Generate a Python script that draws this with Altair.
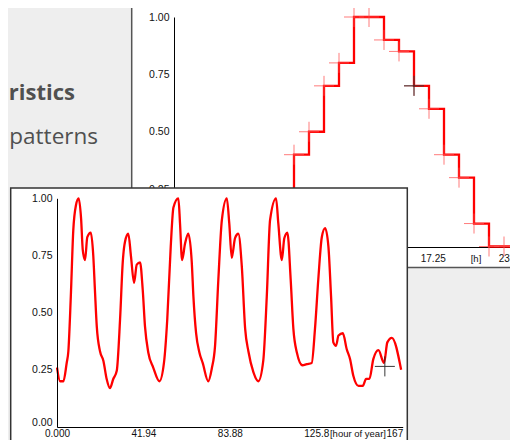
import altair as alt
import pandas as pd

# ---------------- data ----------------
# back window: daily profile, one value per hour
back_hours = list(range(24))
back_values = [0.0, 0.0, 0.0, 0.0, 0.0, 0.0, 0.05, 0.2, 0.4, 0.5, 0.7, 0.8,
               1.0, 1.0, 0.9, 0.85, 0.7, 0.6, 0.4, 0.3, 0.1, 0.0, 0.0, 0.0]
back_cursor_hour = [16]
back_cursor_value = [0.7]
back_ticks = [0, 5.75, 11.5, 17.25, 20.1, 22.35]
back_tick_labels = ["0.000", "5.750", "11.50", "17.25", "[h]", "23"]

# front window: one week, hour of year
front_hours = [0, 1.5, 3.1, 4.7, 5.5, 6.7, 7.9, 9.2, 10.5, 11.7, 12.5, 13.6, 14.7, 16.4,
               17.6, 18.4, 19.3, 20.9, 22.5, 24.1, 25.7, 27.3, 29.0, 30.6, 31.9, 33.0,
               34.6, 35.9, 37.4, 38.7, 40.3, 41.6, 42.7, 44.3, 46.7, 49.7, 51.9, 53.5,
               55.2, 56.5, 58.9, 59.7, 60.7, 62.1, 63.7, 65.4, 66.2, 67.5, 69.1, 70.7,
               73.4, 75.1, 76.7, 78.3, 80.0, 82.4, 83.6, 84.8, 86.4, 88.0, 89.7, 91.3,
               92.9, 95.3, 97.7, 100.1, 101.8, 103.4, 106.3, 107.4, 109.1, 110.3, 111.8,
               113.4, 114.7, 116.4, 119.1, 121.2, 123.6, 125.2, 126.8, 128.5, 130.1,
               131.7, 133.0, 134.1, 135.4, 136.6, 138.7, 140.6, 142.2, 143.8, 146.3,
               148.4, 150.0, 151.6, 153.5, 156.0, 158.7, 160.3, 162.5, 167.0]
front_values = [0.26, 0.20, 0.20, 0.28, 0.33, 0.57, 0.86, 0.97, 1.0, 0.91, 0.775, 0.73,
                0.83, 0.85, 0.75, 0.60, 0.44, 0.33, 0.29, 0.21, 0.17, 0.21, 0.246, 0.47,
                0.72, 0.81, 0.845, 0.746, 0.63, 0.71, 0.72, 0.60, 0.44, 0.326, 0.26, 0.20,
                0.28, 0.47, 0.79, 0.96, 1.0, 0.89, 0.73, 0.80, 0.845, 0.72, 0.57, 0.41,
                0.326, 0.28, 0.20, 0.255, 0.355, 0.645, 0.905, 1.0, 0.89, 0.74, 0.826,
                0.845, 0.70, 0.43, 0.33, 0.24, 0.20, 0.29, 0.57, 0.905, 1.0, 0.89, 0.73,
                0.825, 0.85, 0.645, 0.43, 0.326, 0.27, 0.275, 0.28, 0.43, 0.645, 0.83,
                0.87, 0.79, 0.57, 0.37, 0.355, 0.40, 0.41, 0.34, 0.297, 0.224, 0.18, 0.18,
                0.21, 0.21, 0.297, 0.336, 0.28, 0.37, 0.39, 0.25]
front_cursor_hour = [159.1]
front_cursor_value = [0.265]
front_ticks = [0, 41.94, 83.88, 125.82, 145.8, 167.76]
front_tick_labels = ["0.000", "41.94", "83.88", "125.8", "[hour of year]", "167"]

y_ticks = [0, 0.25, 0.5, 0.75, 1.0]
slide_bold = "ristics"
slide_plain = "patterns"

# ---------------- helpers ----------------
back_df = pd.DataFrame({"hour": back_hours, "value": back_values})
back_cur_df = pd.DataFrame({"hour": back_cursor_hour, "value": back_cursor_value})
front_df = pd.DataFrame({"hour": front_hours, "value": front_values})
front_cur_df = pd.DataFrame({"hour": front_cursor_hour, "value": front_cursor_value})
one = pd.DataFrame({"k": [0]})

CROSS = "M-1,0H1M0,-1V1"
LABEL_FONT = "Liberation Sans"
W, H = 502, 432


def label_expr(vals, labels):
    expr = "''"
    for v, l in reversed(list(zip(vals, labels))):
        expr = f"datum.value == {v} ? '{l}' : ({expr})"
    return expr


def x_axis(vals, labels, offset, last, unit, z, pad):
    return alt.Axis(values=vals, labelExpr=label_expr(vals, labels), orient="bottom",
                    offset=offset, grid=False, ticks=False, domainColor="#000000",
                    domainWidth=1, labelFont=LABEL_FONT,
                    labelFontSize={"condition": {"test": f"datum.value == {unit}", "value": 9.5},
                                   "value": 10},
                    labelColor="#111111", labelPadding=pad, labelOverlap=False,
                    labelFlush=False,
                    labelAlign={"condition": {"test": f"datum.value >= {last}", "value": "right"},
                                "value": "center"},
                    title=None, zindex=z)


def y_axis(offset, z):
    return alt.Axis(values=y_ticks, format=".2f", orient="left", offset=offset, grid=False,
                    ticks=False, domainColor="#000000", domainWidth=1, labelFont=LABEL_FONT,
                    labelFontSize=10.5, labelColor="#111111", labelPadding=5,
                    labelBaseline={"condition": {"test": "datum.value == 0", "value": "bottom"},
                                   "value": "middle"},
                    labelOverlap=False, title=None, zindex=z)


bx_scale = alt.Scale(domain=[0, 23], range=[166, 511], nice=False)
by_scale = alt.Scale(domain=[0, 1], range=[238.5, 9], nice=False)
fx_scale = alt.Scale(domain=[0, 167.76], range=[49, 394.7], nice=False)
fy_scale = alt.Scale(domain=[0, 1], range=[419, 190.3], nice=False)

# ---------------- slide background ----------------
gray = "#eeeeee"
bg_left = alt.Chart(one).mark_rect(color=gray).encode(
    x=alt.value(0), x2=alt.value(123.7), y=alt.value(0), y2=alt.value(H))
bg_bottom = alt.Chart(one).mark_rect(color=gray).encode(
    x=alt.value(123.7), x2=alt.value(W), y=alt.value(259.5), y2=alt.value(H))

txt_bold = alt.Chart(one).mark_text(
    text=slide_bold, align="right", baseline="alphabetic", font="Open Sans",
    fontSize=22, fontWeight="bold", color="#505050").encode(x=alt.value(67), y=alt.value(92))
txt_plain = alt.Chart(one).mark_text(
    text=slide_plain, align="right", baseline="alphabetic", font="Open Sans",
    fontSize=22.5, color="#505050").encode(x=alt.value(90), y=alt.value(136))

# ---------------- back window ----------------
back_frame = alt.Chart(one).mark_rect(fill="white", fillOpacity=0, stroke="#555555",
                                      strokeWidth=1.5).encode(
    x=alt.value(123.7), x2=alt.value(540), y=alt.value(-5), y2=alt.value(259.5))

back_line = alt.Chart(back_df).mark_line(interpolate="step-after", color="#ff0000",
                                         strokeWidth=2.3).encode(
    x=alt.X("hour:Q", scale=bx_scale,
            axis=x_axis(back_ticks, back_tick_labels, 239 - H, 22.3, 20.1, 0, 6)),
    y=alt.Y("value:Q", scale=by_scale, axis=y_axis(-166, 0)))

back_cross = alt.Chart(back_df).mark_point(shape=CROSS, size=400, filled=False,
                                           color="#ff5050", strokeWidth=1,
                                           opacity=0.75).encode(
    x=alt.X("hour:Q", scale=bx_scale, axis=None),
    y=alt.Y("value:Q", scale=by_scale, axis=None))

back_cur = alt.Chart(back_cur_df).mark_point(shape=CROSS, size=400, filled=False,
                                             color="#222222", strokeWidth=1,
                                             opacity=0.9).encode(
    x=alt.X("hour:Q", scale=bx_scale, axis=None),
    y=alt.Y("value:Q", scale=by_scale, axis=None))

# ---------------- front window ----------------
front_frame = alt.Chart(one).mark_rect(fill="white", stroke="#333333",
                                       strokeWidth=1.5).encode(
    x=alt.value(2.7), x2=alt.value(399.3), y=alt.value(180), y2=alt.value(470))

front_line = alt.Chart(front_df).mark_line(color="#ff0000", strokeWidth=2.3,
                                           interpolate="monotone").encode(
    x=alt.X("hour:Q", scale=fx_scale,
            axis=x_axis(front_ticks, front_tick_labels, 419 - H, 167, 145.8, 1, 1.5)),
    y=alt.Y("value:Q", scale=fy_scale, axis=y_axis(-49, 1)))

front_cur = alt.Chart(front_cur_df).mark_point(shape=CROSS, size=400, filled=False,
                                               color="#222222", strokeWidth=1,
                                               opacity=0.9).encode(
    x=alt.X("hour:Q", scale=fx_scale, axis=None),
    y=alt.Y("value:Q", scale=fy_scale, axis=None))

chart = alt.layer(
    bg_left, bg_bottom, txt_bold, txt_plain,
    back_frame, back_line, back_cross, back_cur,
    front_frame, front_line, front_cur,
).resolve_scale(
    x="independent", y="independent"
).resolve_axis(
    x="independent", y="independent"
).properties(
    width=W, height=H, padding=0, background="white",
    autosize=alt.AutoSizeParams(type="none"),
).configure_view(strokeWidth=0)

chart.save("out.html", embed_options={"renderer": "svg", "actions": False})
